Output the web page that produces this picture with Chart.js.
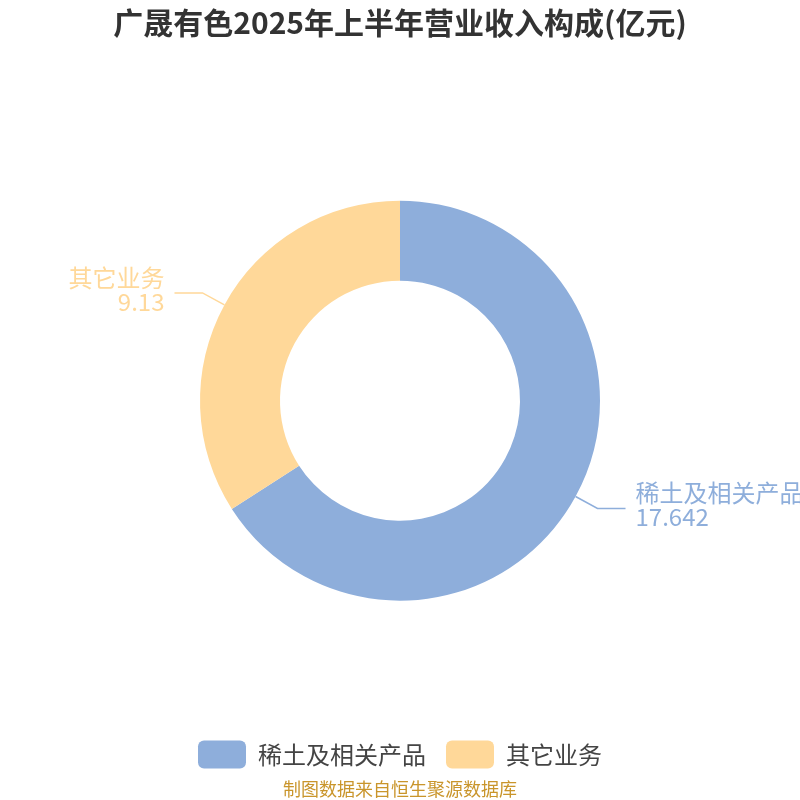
<!DOCTYPE html>
<html>
<head>
<meta charset="utf-8">
<script src="https://cdn.jsdelivr.net/npm/chart.js@4"></script>
<style>
html,body{margin:0;padding:0;background:#fff;}
#wrap{width:800px;height:800px;}
</style>
</head>
<body>
<div id="wrap"><canvas id="c" width="800" height="800"></canvas></div>
<script>
const categories = ['稀土及相关产品', '其它业务'];
const values = [17.642, 9.13];
const valueLabels = ['17.642', '9.13'];
const colors = ['#8EAEDB', '#FFD899'];
const titleText = '广晟有色2025年上半年营业收入构成(亿元)';
const sourceText = '制图数据来自恒生聚源数据库';

const FONT = '"Noto Sans CJK SC", "Noto Sans", sans-serif';

const outsideLabels = {
  id: 'outsideLabels',
  afterDraw(chart) {
    const ctx = chart.ctx;
    const meta = chart.getDatasetMeta(0);
    meta.data.forEach((arc, i) => {
      const p = arc.getProps(['x', 'y', 'startAngle', 'endAngle', 'outerRadius']);
      const mid = (p.startAngle + p.endAngle) / 2;
      const cos = Math.cos(mid), sin = Math.sin(mid);
      const x0 = p.x + cos * p.outerRadius;
      const y0 = p.y + sin * p.outerRadius;
      const x1 = p.x + cos * (p.outerRadius + 25);
      const y1 = p.y + sin * (p.outerRadius + 25);
      const right = cos >= 0;
      const x2 = x1 + (right ? 28 : -28);
      ctx.save();
      ctx.strokeStyle = colors[i];
      ctx.lineWidth = 1.5;
      ctx.beginPath();
      ctx.moveTo(x0, y0);
      ctx.lineTo(x1, y1);
      ctx.lineTo(x2, y1);
      ctx.stroke();
      ctx.fillStyle = colors[i];
      ctx.font = '24px ' + FONT;
      ctx.textAlign = right ? 'left' : 'right';
      ctx.textBaseline = 'alphabetic';
      const tx = x2 + (right ? 10 : -10);
      ctx.fillText(categories[i], tx, y1 - 6);
      ctx.fillText(valueLabels[i], tx, y1 + 18);
      ctx.restore();
    });
  }
};

new Chart(document.getElementById('c'), {
  type: 'doughnut',
  data: {
    labels: categories,
    datasets: [{
      data: values,
      backgroundColor: colors,
      borderWidth: 0,
      radius: 200,
      cutout: '60%'
    }]
  },
  options: {
    responsive: false,
    animation: false,
    events: [],
    layout: { padding: { top: 0, bottom: 0, left: 0, right: 0 } },
    plugins: {
      title: {
        display: true,
        text: titleText,
        color: '#333333',
        font: { family: FONT, size: 30, weight: 'bold' },
        padding: { top: 5, bottom: 40 }
      },
      subtitle: {
        display: true,
        text: sourceText,
        position: 'bottom',
        color: '#C9952B',
        font: { family: FONT, size: 18 },
        padding: { top: 0, bottom: 0 }
      },
      legend: {
        position: 'bottom',
        labels: {
          boxWidth: 48,
          boxHeight: 28,
          useBorderRadius: true,
          borderRadius: 6,
          padding: 20,
          color: '#444444',
          font: { family: FONT, size: 24 }
        }
      },
      tooltip: { enabled: false }
    }
  },
  plugins: [outsideLabels]
});
</script>
</body>
</html>
